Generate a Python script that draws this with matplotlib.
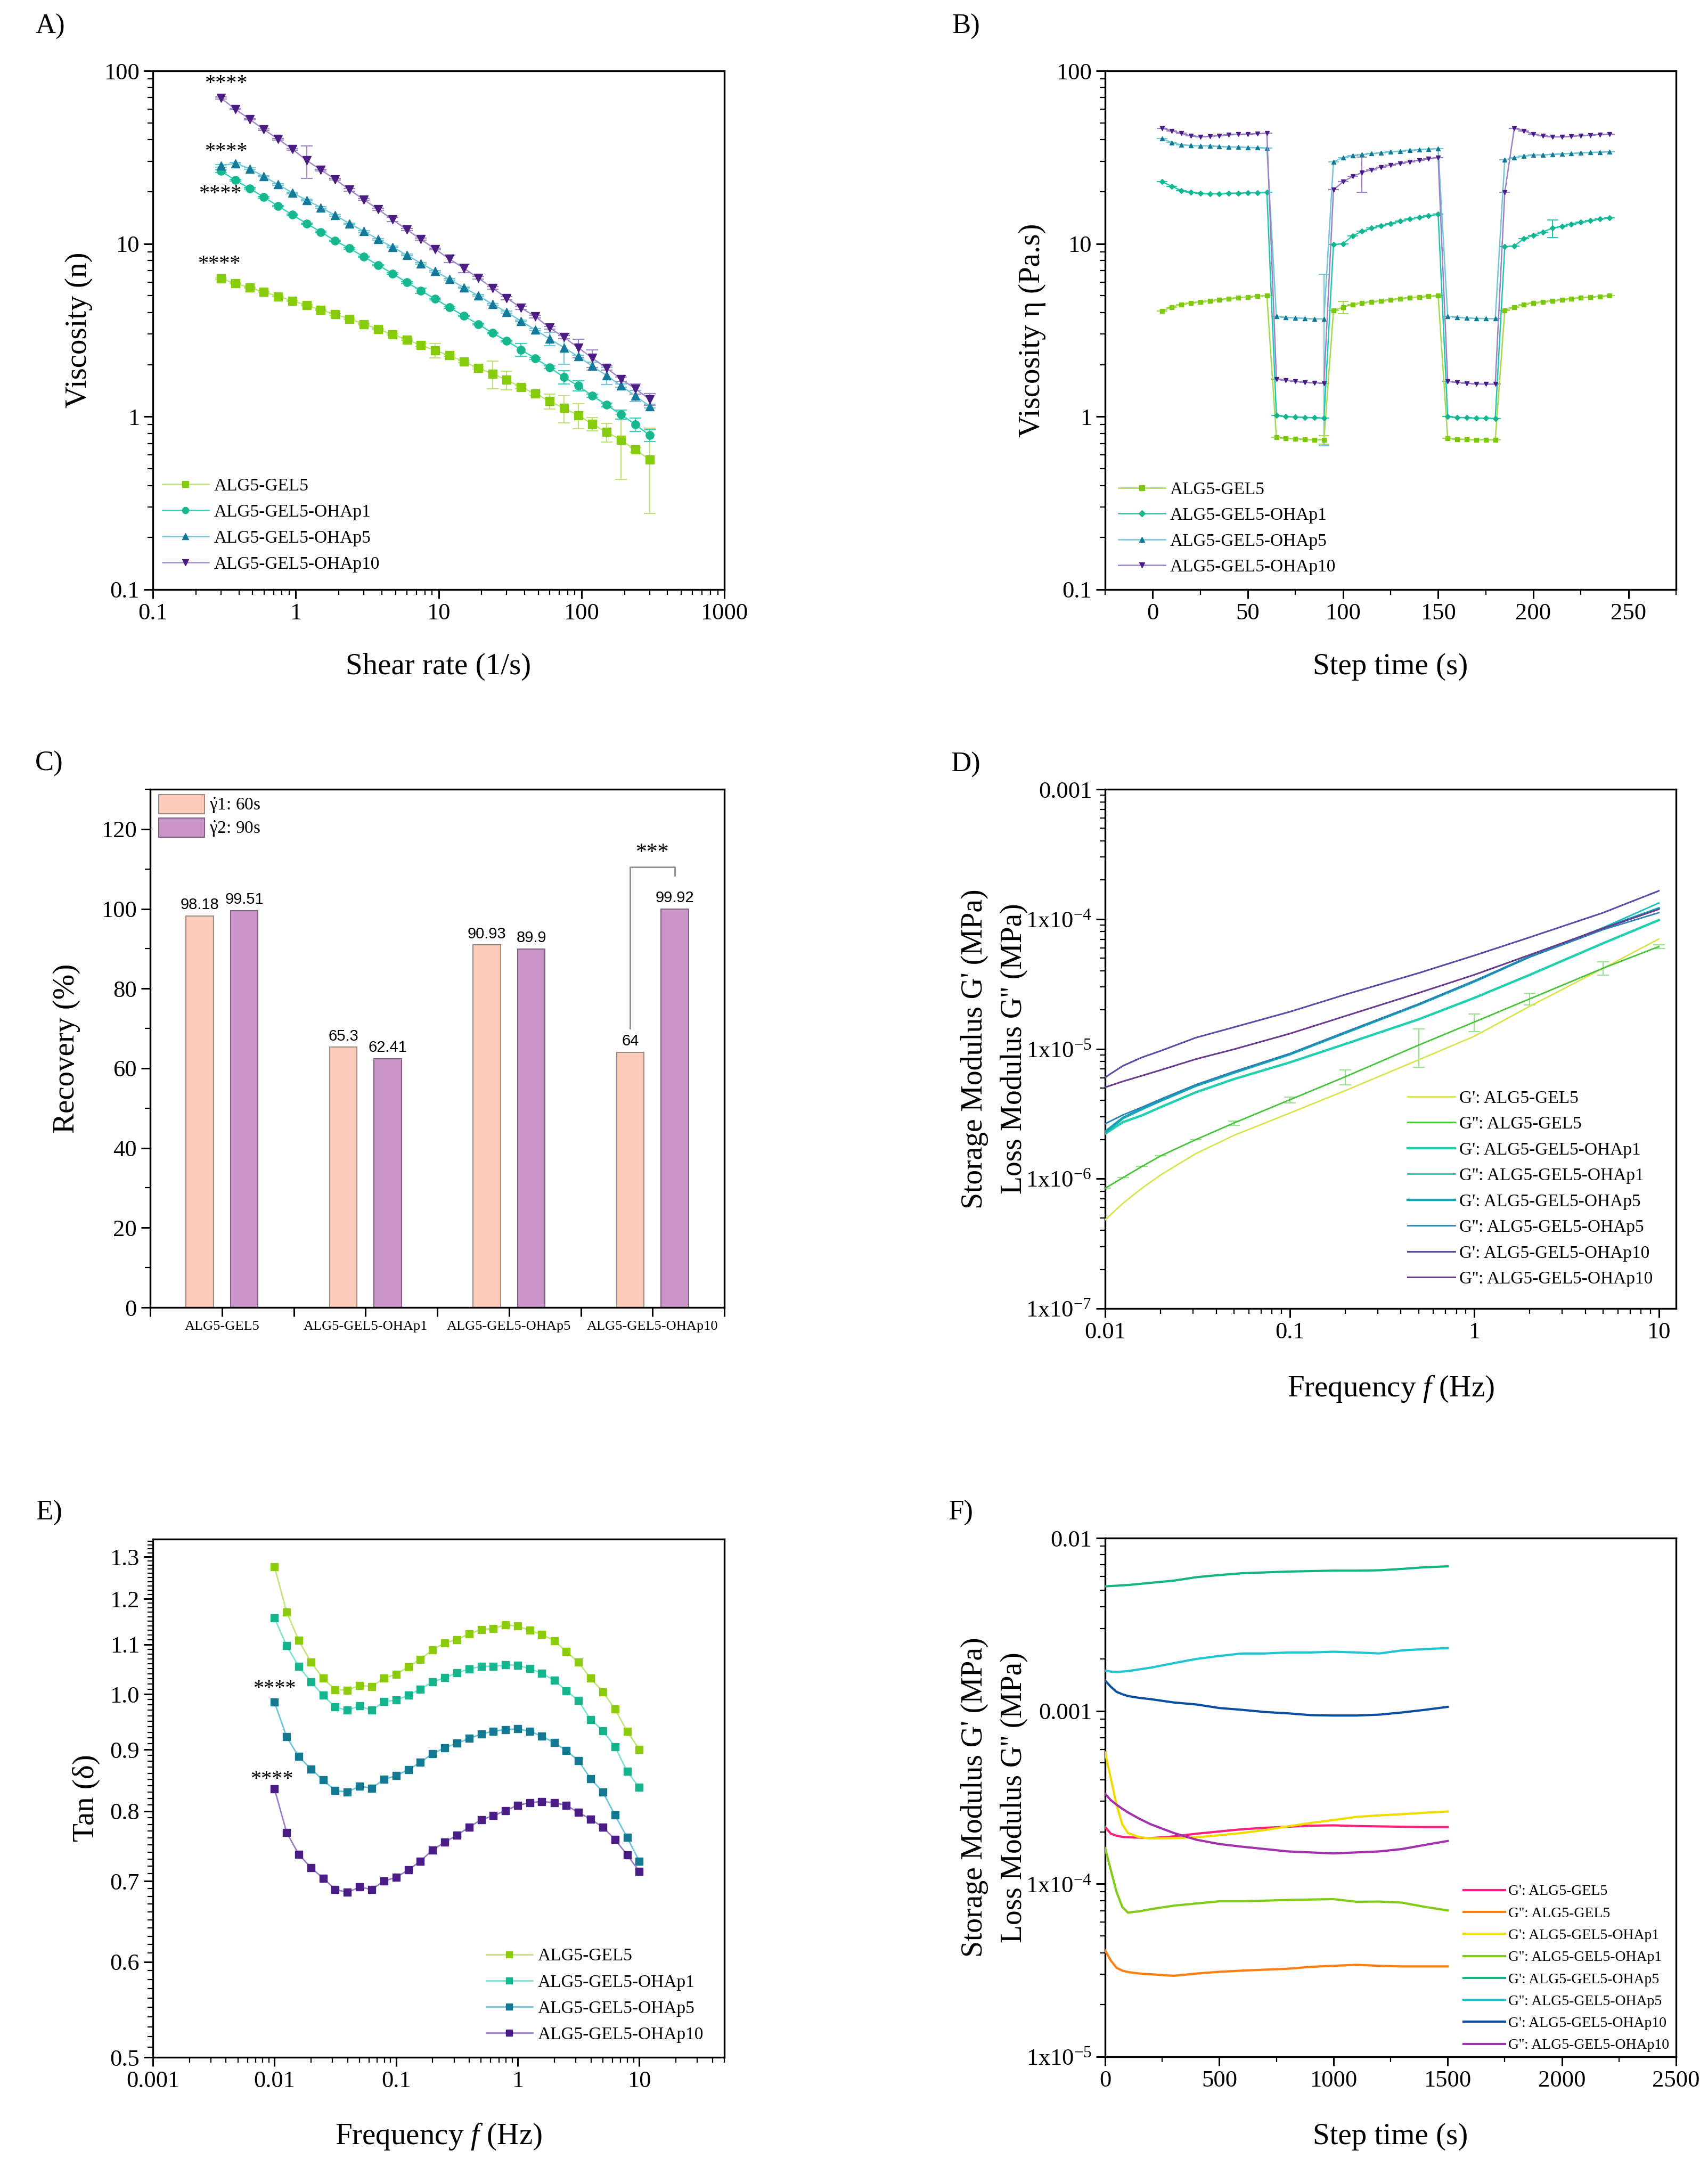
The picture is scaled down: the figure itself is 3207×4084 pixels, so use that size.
import numpy as np
import matplotlib
matplotlib.use('Agg')
import matplotlib.pyplot as plt
from matplotlib.ticker import FixedLocator, FuncFormatter, NullFormatter, MultipleLocator
from matplotlib.patches import Patch

plt.rcParams['font.family'] = ['Liberation Serif', 'DejaVu Serif']
plt.rcParams['mathtext.fontset'] = 'custom'
plt.rcParams['mathtext.rm'] = 'Liberation Serif'
plt.rcParams['mathtext.it'] = 'Liberation Serif:italic'
plt.rcParams['mathtext.default'] = 'regular'

# ---------------- data ----------------
names = ['ALG5-GEL5', 'ALG5-GEL5-OHAp1', 'ALG5-GEL5-OHAp5', 'ALG5-GEL5-OHAp10']

# A) viscosity vs shear rate
shear = [0.3, 0.378, 0.475, 0.598, 0.753, 0.948, 1.19, 1.5, 1.89, 2.38, 3.0, 3.78, 4.75, 5.98, 7.53,
         9.48, 11.9, 15.0, 18.9, 23.8, 30.0, 37.8, 47.5, 59.8, 75.3, 94.8, 119.0, 150.0, 189.0, 238.0, 300.0]
visc_gel5 = [6.27, 5.91, 5.57, 5.26, 4.96, 4.68, 4.41, 4.14, 3.90, 3.68, 3.43, 3.21, 2.99, 2.79, 2.59, 2.41,
             2.26, 2.08, 1.91, 1.77, 1.63, 1.48, 1.36, 1.23, 1.12, 1.02, 0.906, 0.815, 0.733, 0.644, 0.566]
visc_p1 = [26.3, 23.3, 20.9, 18.6, 16.5, 14.7, 13.1, 11.7, 10.4, 9.40, 8.41, 7.52, 6.73, 5.98, 5.35, 4.79,
           4.28, 3.83, 3.43, 3.05, 2.74, 2.44, 2.17, 1.93, 1.69, 1.51, 1.32, 1.17, 1.03, 0.90, 0.78]
visc_p5 = [28.3, 29.2, 27.2, 24.5, 22.0, 19.7, 17.9, 16.2, 14.6, 13.1, 11.8, 10.6, 9.57, 8.61, 7.70, 6.93,
           6.24, 5.58, 5.02, 4.47, 4.02, 3.57, 3.18, 2.82, 2.51, 2.23, 1.96, 1.73, 1.51, 1.32, 1.15]
visc_p10 = [69.5, 60.0, 52.5, 45.8, 40.3, 35.2, 30.4, 26.7, 23.6, 20.5, 18.0, 15.8, 13.8, 12.1, 10.6, 9.30,
            8.17, 7.22, 6.35, 5.55, 4.85, 4.26, 3.79, 3.27, 2.88, 2.51, 2.18, 1.91, 1.65, 1.45, 1.26]
err_gel5 = [0.05, 0.03, 0.03, 0.03, 0.03, 0.03, 0.03, 0.03, 0.03, 0.03, 0.03, 0.03, 0.03, 0.03, 0.05, 0.23,
            0.03, 0.03, 0.03, 0.32, 0.2, 0.03, 0.03, 0.12, 0.2, 0.17, 0.08, 0.1, 0.3, 0.02, 0.29]
err_p1 = [0.5, 0.3, 0.2, 0.2, 0.15, 0.1, 0.1, 0.1, 0.08, 0.08, 0.07, 0.07, 0.06, 0.06, 0.2, 0.05,
          0.04, 0.04, 0.04, 0.03, 0.03, 0.2, 0.03, 0.03, 0.15, 0.1, 0.03, 0.03, 0.06, 0.08, 0.06]
err_p5 = [0.5, 0.3, 0.3, 0.2, 0.2, 0.2, 0.2, 0.15, 0.15, 0.1, 0.1, 0.1, 0.1, 0.1, 0.08, 0.06,
          0.06, 0.05, 0.05, 0.05, 0.05, 0.04, 0.04, 0.25, 0.5, 0.04, 0.1, 0.2, 0.03, 0.1, 0.03]
err_p10 = [1.0, 0.6, 0.5, 0.5, 0.4, 0.4, 6.5, 0.3, 0.3, 0.3, 0.2, 0.2, 0.4, 0.15, 0.15, 0.1,
           0.4, 0.4, 0.1, 0.1, 0.1, 0.08, 0.08, 0.06, 0.06, 0.3, 0.25, 0.05, 0.05, 0.1, 0.1]

# B) step test viscosity
step_t = [5, 10, 15, 20, 25, 30, 35, 40, 45, 50, 55, 60,
          65, 70, 75, 80, 85, 90,
          95, 100, 105, 110, 115, 120, 125, 130, 135, 140, 145, 150,
          155, 160, 165, 170, 175, 180,
          185, 190, 195, 200, 205, 210, 215, 220, 225, 230, 235, 240]
stepv_gel5 = [4.09, 4.30, 4.45, 4.55, 4.62, 4.68, 4.75, 4.82, 4.87, 4.92, 4.97, 5.02,
              0.76, 0.75, 0.745, 0.74, 0.735, 0.735,
              4.10, 4.30, 4.45, 4.55, 4.62, 4.68, 4.75, 4.82, 4.87, 4.92, 4.97, 5.00,
              0.75, 0.74, 0.74, 0.735, 0.735, 0.735,
              4.10, 4.30, 4.45, 4.55, 4.62, 4.68, 4.75, 4.82, 4.87, 4.92, 4.96, 5.00]
stepv_p1 = [22.8, 21.5, 20.3, 19.8, 19.6, 19.5, 19.5, 19.6, 19.6, 19.7, 19.7, 19.8,
            1.02, 1.00, 0.995, 0.99, 0.985, 0.98,
            9.9, 10.0, 11.1, 11.8, 12.3, 12.7, 13.1, 13.5, 13.9, 14.2, 14.5, 14.8,
            1.00, 0.99, 0.985, 0.98, 0.98, 0.975,
            9.6, 9.7, 10.7, 11.2, 11.7, 12.3, 12.6, 13.0, 13.3, 13.6, 13.9, 14.1]
stepv_p5 = [40.5, 38.5, 37.3, 37.0, 36.8, 36.8, 36.5, 36.3, 36.2, 36.0, 35.9, 35.8,
            3.80, 3.75, 3.72, 3.70, 3.68, 3.68,
            29.8, 31.5, 32.3, 32.8, 33.2, 33.6, 34.0, 34.3, 34.7, 35.0, 35.3, 35.5,
            3.80, 3.76, 3.72, 3.70, 3.69, 3.69,
            30.5, 31.5, 32.2, 32.5, 32.7, 32.9, 33.1, 33.3, 33.5, 33.7, 33.9, 34.0]
stepv_p10 = [46.5, 45.0, 43.5, 42.0, 41.5, 41.8, 42.2, 42.6, 42.9, 43.1, 43.3, 43.5,
             1.65, 1.62, 1.60, 1.58, 1.57, 1.56,
             20.5, 22.8, 24.5, 25.8, 26.8, 27.8, 28.5, 29.2, 29.8, 30.4, 31.0, 31.5,
             1.60, 1.58, 1.56, 1.55, 1.54, 1.54,
             19.8, 46.5, 45.0, 43.0, 42.0, 41.5, 41.5, 41.8, 42.2, 42.5, 42.8, 43.0]
steperr_gel5 = [0]*17 + [0.04, 0, 0.35] + [0]*28
steperr_p1 = [0]*41 + [1.4] + [0]*6
steperr_p5 = [0]*17 + [3.0] + [0]*30
steperr_p10 = [0]*21 + [6.0] + [0]*26

# C) recovery
rec_groups = ['ALG5-GEL5', 'ALG5-GEL5-OHAp1', 'ALG5-GEL5-OHAp5', 'ALG5-GEL5-OHAp10']
rec_60s = [98.18, 65.3, 90.93, 64]
rec_90s = [99.51, 62.41, 89.9, 99.92]
rec_legend = [r'$\dot{\gamma}$1: 60s', r'$\dot{\gamma}$2: 90s']

# D) frequency sweep moduli
freq_D = [0.01, 0.0125, 0.0158, 0.02, 0.031, 0.05, 0.1, 0.2, 0.5, 1.0, 2.0, 5.0, 10.0]
D_labels = ["G': ALG5-GEL5", "G'': ALG5-GEL5", "G': ALG5-GEL5-OHAp1", "G'': ALG5-GEL5-OHAp1",
            "G': ALG5-GEL5-OHAp5", "G'': ALG5-GEL5-OHAp5", "G': ALG5-GEL5-OHAp10", "G'': ALG5-GEL5-OHAp10"]
D_gp_gel5 = [4.83e-7, 6.47e-7, 8.43e-7, 1.07e-6, 1.56e-6, 2.16e-6, 3.2e-6, 4.77e-6, 8.24e-6, 1.25e-5, 2.13e-5, 4.18e-5, 7.03e-5]
D_gpp_gel5 = [8.43e-7, 1.02e-6, 1.24e-6, 1.5e-6, 2.0e-6, 2.69e-6, 4.05e-6, 6.1e-6, 1.07e-5, 1.61e-5, 2.43e-5, 4.19e-5, 6.14e-5]
D_gp_p1 = [2.22e-6, 2.73e-6, 3.07e-6, 3.56e-6, 4.63e-6, 5.86e-6, 7.86e-6, 1.09e-5, 1.69e-5, 2.47e-5, 3.72e-5, 6.52e-5, 9.82e-5]
D_gpp_p1 = [2.22e-6, 2.9e-6, 3.4e-6, 3.95e-6, 5.15e-6, 6.5e-6, 9.0e-6, 1.32e-5, 2.18e-5, 3.28e-5, 5.1e-5, 8.6e-5, 1.33e-4]
D_gp_p5 = [2.3e-6, 2.95e-6, 3.45e-6, 4.0e-6, 5.2e-6, 6.6e-6, 9.1e-6, 1.33e-5, 2.2e-5, 3.31e-5, 5.15e-5, 8.5e-5, 1.21e-4]
D_gpp_p5 = [2.65e-6, 3.1e-6, 3.55e-6, 4.1e-6, 5.3e-6, 6.7e-6, 9.2e-6, 1.35e-5, 2.22e-5, 3.35e-5, 5.1e-5, 8.3e-5, 1.12e-4]
D_gp_p10 = [6.04e-6, 7.41e-6, 8.59e-6, 9.66e-6, 1.22e-5, 1.47e-5, 1.93e-5, 2.62e-5, 3.84e-5, 5.24e-5, 7.24e-5, 1.12e-4, 1.65e-4]
D_gpp_p10 = [5.06e-6, 5.62e-6, 6.21e-6, 6.87e-6, 8.34e-6, 9.94e-6, 1.31e-5, 1.79e-5, 2.70e-5, 3.72e-5, 5.30e-5, 8.49e-5, 1.19e-4]
D_err_gpp_gel5 = [0, 0, 0, 0, 0, 1e-7, 2e-7, 8e-7, 3.5e-6, 2.5e-6, 2.5e-6, 5e-6, 2e-6]

# E) tan delta
freq_E = [0.01, 0.0126, 0.0158, 0.02, 0.0251, 0.0316, 0.0398, 0.0501, 0.0631, 0.0794, 0.1, 0.126, 0.158, 0.2,
          0.251, 0.316, 0.398, 0.501, 0.631, 0.794, 1.0, 1.26, 1.58, 2.0, 2.51, 3.16, 3.98, 5.01, 6.31, 7.94, 10.0]
tan_gel5 = [1.276, 1.170, 1.109, 1.063, 1.031, 1.009, 1.008, 1.017, 1.015, 1.031, 1.039, 1.054, 1.069, 1.089, 1.103,
            1.110, 1.122, 1.132, 1.134, 1.142, 1.139, 1.130, 1.121, 1.108, 1.085, 1.063, 1.031, 1.005, 0.972, 0.932, 0.900]
tan_p1 = [1.157, 1.097, 1.055, 1.024, 0.998, 0.976, 0.970, 0.978, 0.970, 0.986, 0.989, 0.998, 1.010, 1.024, 1.032,
          1.042, 1.049, 1.055, 1.055, 1.058, 1.057, 1.050, 1.041, 1.027, 1.007, 0.988, 0.953, 0.933, 0.905, 0.863, 0.837]
tan_p5 = [0.985, 0.922, 0.888, 0.867, 0.849, 0.832, 0.830, 0.839, 0.836, 0.850, 0.856, 0.866, 0.878, 0.893, 0.903,
          0.911, 0.919, 0.927, 0.932, 0.935, 0.936, 0.932, 0.923, 0.912, 0.898, 0.881, 0.851, 0.830, 0.794, 0.761, 0.727]
tan_p10 = [0.835, 0.768, 0.737, 0.718, 0.704, 0.689, 0.685, 0.692, 0.689, 0.700, 0.705, 0.715, 0.727, 0.743, 0.754,
           0.764, 0.776, 0.787, 0.793, 0.801, 0.809, 0.813, 0.815, 0.813, 0.809, 0.798, 0.788, 0.776, 0.758, 0.736, 0.713]

# F) time sweep moduli
time_F = [0, 25, 50, 75, 100, 150, 200, 300, 400, 500, 600, 700, 800, 900, 1000, 1100, 1200, 1300, 1400, 1500]
F_gp_gel5 = [2.13e-4, 1.95e-4, 1.9e-4, 1.87e-4, 1.86e-4, 1.85e-4, 1.84e-4, 1.88e-4, 1.95e-4, 2.01e-4,
             2.07e-4, 2.11e-4, 2.14e-4, 2.17e-4, 2.18e-4, 2.16e-4, 2.15e-4, 2.14e-4, 2.13e-4, 2.13e-4]
F_gpp_gel5 = [4.12e-5, 3.6e-5, 3.27e-5, 3.15e-5, 3.09e-5, 3.03e-5, 3.0e-5, 2.94e-5, 3.03e-5, 3.1e-5,
              3.15e-5, 3.19e-5, 3.23e-5, 3.31e-5, 3.36e-5, 3.4e-5, 3.36e-5, 3.33e-5, 3.33e-5, 3.33e-5]
F_gp_p1 = [5.75e-4, 4.07e-4, 2.87e-4, 2.21e-4, 1.97e-4, 1.86e-4, 1.83e-4, 1.84e-4, 1.86e-4, 1.91e-4,
           1.97e-4, 2.05e-4, 2.15e-4, 2.25e-4, 2.34e-4, 2.44e-4, 2.49e-4, 2.53e-4, 2.58e-4, 2.62e-4]
F_gpp_p1 = [1.61e-4, 1.2e-4, 9.0e-5, 7.36e-5, 6.82e-5, 6.94e-5, 7.14e-5, 7.48e-5, 7.7e-5, 7.93e-5,
            7.93e-5, 8.0e-5, 8.07e-5, 8.12e-5, 8.16e-5, 7.88e-5, 7.9e-5, 7.79e-5, 7.36e-5, 7.02e-5]
F_gp_p5 = [5.26e-3, 5.28e-3, 5.3e-3, 5.33e-3, 5.35e-3, 5.43e-3, 5.51e-3, 5.67e-3, 5.94e-3, 6.11e-3,
           6.26e-3, 6.33e-3, 6.40e-3, 6.44e-3, 6.48e-3, 6.48e-3, 6.51e-3, 6.63e-3, 6.78e-3, 6.86e-3]
F_gpp_p5 = [1.71e-3, 1.69e-3, 1.68e-3, 1.69e-3, 1.70e-3, 1.74e-3, 1.78e-3, 1.89e-3, 2.0e-3, 2.08e-3,
            2.15e-3, 2.15e-3, 2.18e-3, 2.18e-3, 2.2e-3, 2.18e-3, 2.15e-3, 2.24e-3, 2.28e-3, 2.31e-3]
F_gp_p10 = [1.5e-3, 1.38e-3, 1.29e-3, 1.25e-3, 1.22e-3, 1.19e-3, 1.17e-3, 1.12e-3, 1.09e-3, 1.04e-3,
            1.015e-3, 0.986e-3, 0.969e-3, 0.946e-3, 0.941e-3, 0.941e-3, 0.952e-3, 0.98e-3, 1.015e-3, 1.056e-3]
F_gpp_p10 = [3.32e-4, 3.05e-4, 2.87e-4, 2.72e-4, 2.59e-4, 2.38e-4, 2.21e-4, 1.97e-4, 1.8e-4, 1.7e-4,
             1.64e-4, 1.59e-4, 1.54e-4, 1.52e-4, 1.5e-4, 1.52e-4, 1.54e-4, 1.59e-4, 1.68e-4, 1.77e-4]

# ---------------- figure ----------------
W, H = 3207, 4084
DPI = 100
fig = plt.figure(figsize=(W / DPI, H / DPI), dpi=DPI)
fig.patch.set_facecolor('white')


def ax_at(x0, y0, x1, y1):
    return fig.add_axes([x0 / W, 1 - y1 / H, (x1 - x0) / W, (y1 - y0) / H])


def style(ax):
    for s in ax.spines.values():
        s.set_linewidth(2.4)
    ax.tick_params(which='both', direction='out', top=False, right=False, labelsize=32, pad=6)
    ax.tick_params(which='major', length=12, width=2.2)
    ax.tick_params(which='minor', length=7, width=1.6)


def plain(v, pos):
    return f'{v:g}'


def sci(v, pos):
    if v >= 1e-3 - 1e-12:
        return f'{v:g}'
    return r'1x10$^{%d}$' % int(round(np.log10(v)))


def xlab(ax, text, y, size=41):
    ax.set_xlabel(text, fontsize=size, va='center')
    ax.xaxis.set_label_coords(0.5, y)


def ylab(ax, text, x, size=41):
    ax.set_ylabel(text, fontsize=size, va='center')
    ax.yaxis.set_label_coords(x, 0.5)


def leg(ax, x, y, size, ls, hl=2.6, pad=0.3, **kw):
    return ax.legend(loc='upper left', bbox_to_anchor=(x, y), frameon=False, fontsize=size,
                     handlelength=hl, handletextpad=pad, labelspacing=ls, borderpad=0,
                     borderaxespad=0, **kw)


axA = ax_at(287, 133, 1360, 1107)
axB = ax_at(2075, 133, 3147, 1107)
axC = ax_at(282, 1482, 1360, 2455)
axD = ax_at(2075, 1482, 3147, 2457)
axE = ax_at(287, 2890, 1360, 3863)
axF = ax_at(2075, 2888, 3147, 3862)

# ---- A ----
A_line = ['#bfe37a', '#36d3b8', '#74c8d8', '#a28ac8']
A_mark = ['#86cc0a', '#17b890', '#157a9a', '#4b1d80']
A_mk = ['s', 'o', '^', 'v']
A_vals = [visc_gel5, visc_p1, visc_p5, visc_p10]
A_errs = [err_gel5, err_p1, err_p5, err_p10]
for i in range(4):
    axA.errorbar(shear, A_vals[i], yerr=A_errs[i], fmt='none', ecolor=A_line[i], elinewidth=1.6,
                 capsize=8, capthick=1.6, zorder=2)
    axA.plot(shear, A_vals[i], color=A_line[i], lw=1.8, marker=A_mk[i], ms=11, mfc=A_mark[i],
             mec=A_mark[i], label=names[i], zorder=3)
axA.set_xscale('log')
axA.set_yscale('log')
axA.set_xlim(0.1, 1000)
axA.set_ylim(0.1, 100)
style(axA)
for a in (axA.xaxis, axA.yaxis):
    a.set_major_formatter(FuncFormatter(plain))
    a.set_minor_formatter(NullFormatter())
xlab(axA, 'Shear rate (1/s)', -0.149)
ylab(axA, 'Viscosity (n)', -0.130)
leg(axA, 0.0167, 0.2156, 24, 0.555, hl=2.6, pad=0.3, markerscale=0.8)
for xs, ys in [(0.324, 84), (0.324, 34), (0.295, 19.4), (0.29, 7.6)]:
    axA.text(xs, ys, '****', fontsize=29, ha='center', va='center')

# ---- B ----
B_line = ['#a5da4c', '#1cc9ad', '#72c6d7', '#9a80c6']
B_mark = ['#7cc80e', '#14b48e', '#137892', '#4a1c85']
B_mk = ['s', 'D', '^', 'v']
B_vals = [stepv_gel5, stepv_p1, stepv_p5, stepv_p10]
B_errs = [steperr_gel5, steperr_p1, steperr_p5, steperr_p10]
for i in range(4):
    axB.errorbar(step_t, B_vals[i], yerr=B_errs[i], fmt='none', ecolor=B_line[i], elinewidth=1.5,
                 capsize=7, capthick=1.5, zorder=2)
    axB.plot(step_t, B_vals[i], color=B_line[i], lw=1.8, marker=B_mk[i], ms=5.5, mfc=B_mark[i],
             mec=B_mark[i], label=names[i], zorder=3)
axB.set_yscale('log')
axB.set_xlim(-25, 275)
axB.set_ylim(0.1, 100)
style(axB)
axB.xaxis.set_major_locator(MultipleLocator(50))
axB.xaxis.set_minor_locator(MultipleLocator(25))
axB.yaxis.set_major_formatter(FuncFormatter(plain))
axB.yaxis.set_minor_formatter(NullFormatter())
xlab(axB, 'Step time (s)', -0.149)
ylab(axB, 'Viscosity η (Pa.s)', -0.128)
leg(axB, 0.0233, 0.2084, 24, 0.54, hl=2.64, pad=0.27, markerscale=1.2)

# ---- C ----
xc = np.arange(1, len(rec_groups) + 1)
bw = 0.19
off = 0.155
c_pink, c_purp = '#fccbba', '#c994c7'
axC.bar(xc - off, rec_60s, width=bw, color=c_pink, edgecolor='#a08a84', linewidth=1.5, zorder=2)
axC.bar(xc + off, rec_90s, width=bw, color=c_purp, edgecolor='#806080', linewidth=1.5, zorder=2)
for xx, v in zip(xc - off, rec_60s):
    axC.text(xx, v + 0.9, f'{v:g}', ha='center', va='bottom', fontsize=21, family='Liberation Sans')
for xx, v in zip(xc + off, rec_90s):
    axC.text(xx, v + 0.9, f'{v:g}', ha='center', va='bottom', fontsize=21, family='Liberation Sans')
axC.set_xlim(0.5, 4.5)
axC.set_ylim(0, 130)
style(axC)
axC.set_xticks(xc)
axC.set_xticklabels(rec_groups, fontsize=19)
axC.xaxis.set_minor_locator(MultipleLocator(0.5))
axC.tick_params(axis='x', which='minor', length=12, width=2.2)
axC.yaxis.set_major_locator(MultipleLocator(20))
axC.yaxis.set_minor_locator(MultipleLocator(10))
ylab(axC, 'Recovery (%)', -0.146)
g = len(rec_groups)
axC.plot([g - off, g - off, g + off, g + off], [70, 110.5, 110.5, 108.3], color='#8c8c8c', lw=2, zorder=3)
axC.text(g, 114, '***', ha='center', va='center', fontsize=30)
axC.legend([Patch(facecolor=c_pink, edgecolor='#a08a84', lw=1.5),
            Patch(facecolor=c_purp, edgecolor='#806080', lw=1.5)], rec_legend,
           loc='upper left', bbox_to_anchor=(0.0148, 0.9897), frameon=False, fontsize=24,
           handlelength=2.58, handleheight=1.3, handletextpad=0.27, labelspacing=0.17,
           borderpad=0, borderaxespad=0)

# ---- D ----
D_vals = [D_gp_gel5, D_gpp_gel5, D_gp_p1, D_gpp_p1, D_gp_p5, D_gpp_p5, D_gp_p10, D_gpp_p10]
D_cols = ['#d8e44a', '#45c43a', '#1fcfae', '#1cbfbd', '#14a4b4', '#2b80b6', '#5b4ba8', '#6a3a8e']
D_lw = [2.0, 2.0, 3.2, 2.0, 3.2, 2.0, 2.2, 2.2]
axD.errorbar(freq_D, D_gpp_gel5, yerr=D_err_gpp_gel5, fmt='none', ecolor='#9be08f', elinewidth=1.6,
             capsize=8, capthick=1.6, zorder=2)
for i in range(8):
    axD.plot(freq_D, D_vals[i], color=D_cols[i], lw=D_lw[i], label=D_labels[i], zorder=3)
axD.set_xscale('log')
axD.set_yscale('log')
axD.set_xlim(0.01, 12.4)
axD.set_ylim(1e-7, 1e-3)
style(axD)
axD.xaxis.set_major_formatter(FuncFormatter(plain))
axD.xaxis.set_minor_formatter(NullFormatter())
axD.yaxis.set_major_formatter(FuncFormatter(sci))
axD.yaxis.set_minor_formatter(NullFormatter())
xlab(axD, r'Frequency $\mathit{f}$ (Hz)', -0.155)
axD.text(-0.229, 0.5, "Storage Modulus G' (MPa)", transform=axD.transAxes, rotation=90,
         ha='center', va='center', fontsize=40)
axD.text(-0.160, 0.5, "Loss Modulus G'' (MPa)", transform=axD.transAxes, rotation=90,
         ha='center', va='center', fontsize=40)
leg(axD, 0.530, 0.4205, 24, 0.54, hl=2.67, pad=0.24)

# ---- E ----
E_line = ['#c2e57e', '#7fe3d3', '#6cc6d9', '#9a7fc6']
E_mark = ['#8ccc0a', '#14b48e', '#137892', '#4a1c85']
E_vals = [tan_gel5, tan_p1, tan_p5, tan_p10]
for i in range(4):
    axE.plot(freq_E, E_vals[i], color=E_line[i], lw=2.0, marker='s', ms=10.5, mfc=E_mark[i],
             mec=E_mark[i], label=names[i], zorder=3)
axE.set_xscale('log')
axE.set_yscale('log')
axE.set_xlim(0.001, 50)
axE.set_ylim(0.5, 1.345)
style(axE)
axE.xaxis.set_major_formatter(FuncFormatter(plain))
axE.xaxis.set_minor_formatter(NullFormatter())
axE.yaxis.set_major_locator(FixedLocator([0.5, 0.6, 0.7, 0.8, 0.9, 1.0, 1.1, 1.2, 1.3]))
axE.yaxis.set_major_formatter(FuncFormatter(lambda v, p: f'{v:.1f}'))
axE.yaxis.set_minor_locator(FixedLocator(np.arange(0.5, 1.345, 0.01)))
axE.yaxis.set_minor_formatter(NullFormatter())
xlab(axE, r'Frequency $\mathit{f}$ (Hz)', -0.153)
ylab(axE, 'Tan (δ)', -0.117)
axE.text(0.01, 1.010, '****', fontsize=29, ha='center', va='center')
axE.text(0.0095, 0.850, '****', fontsize=29, ha='center', va='center')
leg(axE, 0.5834, 0.2107, 24, 0.56, hl=2.6, pad=0.3, markerscale=0.8)

# ---- F ----
F_vals = [F_gp_gel5, F_gpp_gel5, F_gp_p1, F_gpp_p1, F_gp_p5, F_gpp_p5, F_gp_p10, F_gpp_p10]
F_cols = ['#ff1f7f', '#ff7f0f', '#f2dc00', '#80cc16', '#12b585', '#1ec5d3', '#0a4fa3', '#a330ad']
for i in range(8):
    axF.plot(time_F, F_vals[i], color=F_cols[i], lw=3.0, label=D_labels[i], zorder=3)
axF.set_yscale('log')
axF.set_xlim(0, 2500)
axF.set_ylim(1e-5, 1e-2)
style(axF)
axF.xaxis.set_major_locator(MultipleLocator(500))
axF.xaxis.set_minor_locator(MultipleLocator(250))
axF.yaxis.set_major_formatter(FuncFormatter(sci))
axF.yaxis.set_minor_formatter(NullFormatter())
xlab(axF, 'Step time (s)', -0.154)
axF.text(-0.229, 0.5, "Storage Modulus G' (MPa)", transform=axF.transAxes, rotation=90,
         ha='center', va='center', fontsize=40)
axF.text(-0.160, 0.5, "Loss Modulus G'' (MPa)", transform=axF.transAxes, rotation=90,
         ha='center', va='center', fontsize=40)
leg(axF, 0.628, 0.3316, 20, 0.57, hl=2.8, pad=0.22)

# panel letters
for lab, (px, py) in {'A)': (94, 50), 'B)': (1814, 50), 'C)': (92, 1434),
                      'D)': (1813, 1436), 'E)': (92, 2841), 'F)': (1804, 2841)}.items():
    fig.text(px / W, 1 - py / H, lab, fontsize=38, ha='center', va='center')

fig.savefig('out.png', dpi=DPI, facecolor='white')
